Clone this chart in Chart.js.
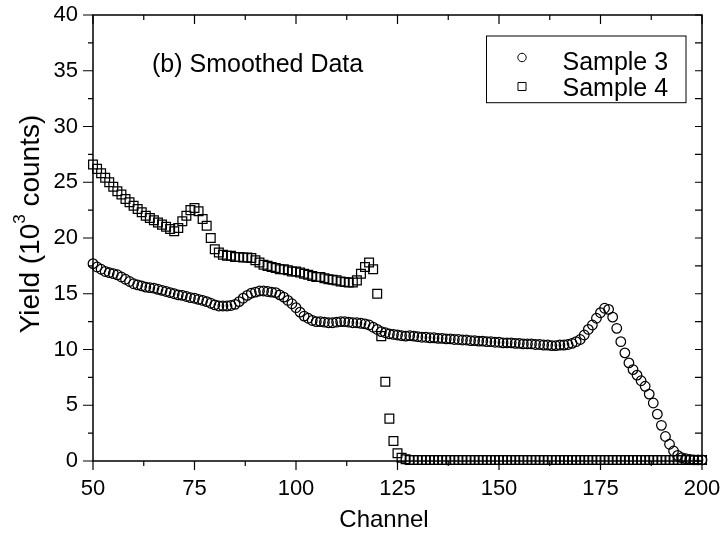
<!DOCTYPE html>
<html lang="en">
<head>
  <meta charset="UTF-8" />
  <title>Smoothed Data</title>
  <script src="https://cdn.jsdelivr.net/npm/chart.js"></script>
  <style>
    html, body {
      margin: 0;
      padding: 0;
      background: #fff;
    }
    .chart-box {
      width: 722px;
      height: 535px;
    }
  </style>
</head>
<body>
  <div class="chart-box">
    <canvas id="yieldChart"></canvas>
  </div>

  <script>
    // channel numbers (x)
    const channels = [
      50, 51, 52, 53, 54, 55, 56, 57, 58, 59,
      60, 61, 62, 63, 64, 65, 66, 67, 68, 69,
      70, 71, 72, 73, 74, 75, 76, 77, 78, 79,
      80, 81, 82, 83, 84, 85, 86, 87, 88, 89,
      90, 91, 92, 93, 94, 95, 96, 97, 98, 99,
      100, 101, 102, 103, 104, 105, 106, 107, 108, 109,
      110, 111, 112, 113, 114, 115, 116, 117, 118, 119,
      120, 121, 122, 123, 124, 125, 126, 127, 128, 129,
      130, 131, 132, 133, 134, 135, 136, 137, 138, 139,
      140, 141, 142, 143, 144, 145, 146, 147, 148, 149,
      150, 151, 152, 153, 154, 155, 156, 157, 158, 159,
      160, 161, 162, 163, 164, 165, 166, 167, 168, 169,
      170, 171, 172, 173, 174, 175, 176, 177, 178, 179,
      180, 181, 182, 183, 184, 185, 186, 187, 188, 189,
      190, 191, 192, 193, 194, 195, 196, 197, 198, 199,
      200
    ];

    // yield, 10^3 counts
    const sample3 = [
      17.7, 17.4, 17.2, 17.0, 16.9, 16.8, 16.7, 16.5, 16.3, 16.1,
      15.9, 15.8, 15.7, 15.6, 15.55, 15.5, 15.4, 15.3, 15.2, 15.1,
      15.0, 14.9, 14.85, 14.75, 14.65, 14.6, 14.5, 14.4, 14.3, 14.15,
      14.0, 13.9, 13.9, 13.9, 13.95, 14.05, 14.3, 14.6, 14.85, 15.05,
      15.15, 15.25, 15.25, 15.2, 15.15, 15.1, 14.9, 14.7, 14.4, 14.1,
      13.75, 13.35, 13.0, 12.8, 12.6, 12.5, 12.5, 12.45, 12.4, 12.4,
      12.45, 12.5, 12.5, 12.45, 12.4, 12.4, 12.35, 12.3, 12.2, 12.0,
      11.8, 11.6, 11.5, 11.4, 11.35, 11.3, 11.25, 11.2, 11.25, 11.2,
      11.15, 11.1, 11.1, 11.05, 11.05, 11.0, 11.0, 10.95, 10.95, 10.9,
      10.9, 10.85, 10.85, 10.8, 10.8, 10.75, 10.75, 10.7, 10.7, 10.65,
      10.65, 10.6, 10.6, 10.6, 10.55, 10.55, 10.5, 10.5, 10.5, 10.45,
      10.45, 10.4, 10.4, 10.35, 10.35, 10.4, 10.4, 10.45, 10.55, 10.7,
      10.9, 11.3, 11.8, 12.2, 12.8, 13.3, 13.7, 13.6, 12.9, 11.9,
      10.7, 9.7, 8.8, 8.2, 7.7, 7.2, 6.7, 6.0, 5.2, 4.2,
      3.2, 2.2, 1.5, 0.9, 0.5, 0.3, 0.2, 0.15, 0.1, 0.1,
      0.1
    ];

    const sample4 = [
      26.6, 26.2, 25.8, 25.4, 25.0, 24.6, 24.2, 23.9, 23.5, 23.2,
      22.9, 22.6, 22.3, 22.0, 21.8, 21.6, 21.4, 21.2, 21.0, 20.8,
      20.6, 20.9, 21.5, 22.0, 22.5, 22.7, 22.4, 21.7, 21.1, 20.0,
      19.0, 18.7, 18.5, 18.4, 18.4, 18.3, 18.3, 18.25, 18.25, 18.2,
      18.0, 17.8, 17.6, 17.5, 17.4, 17.3, 17.2, 17.2, 17.1, 17.0,
      17.0, 16.9, 16.8, 16.7, 16.6, 16.5, 16.5, 16.4, 16.3, 16.25,
      16.2, 16.1, 16.05, 16.0, 16.0, 16.2, 16.8, 17.4, 17.8, 17.2,
      15.0, 11.2, 7.1, 3.8, 1.8, 0.7, 0.3, 0.15, 0.1, 0.1,
      0.1, 0.1, 0.1, 0.1, 0.1, 0.1, 0.1, 0.1, 0.1, 0.1,
      0.1, 0.1, 0.1, 0.1, 0.1, 0.1, 0.1, 0.1, 0.1, 0.1,
      0.1, 0.1, 0.1, 0.1, 0.1, 0.1, 0.1, 0.1, 0.1, 0.1,
      0.1, 0.1, 0.1, 0.1, 0.1, 0.1, 0.1, 0.1, 0.1, 0.1,
      0.1, 0.1, 0.1, 0.1, 0.1, 0.1, 0.1, 0.1, 0.1, 0.1,
      0.1, 0.1, 0.1, 0.1, 0.1, 0.1, 0.1, 0.1, 0.1, 0.1,
      0.1, 0.1, 0.1, 0.1, 0.1, 0.1, 0.1, 0.1, 0.1, 0.1,
      0.1
    ];

    const seriesNames = ["Sample 3", "Sample 4"];
    const xTicks = [50, 75, 100, 125, 150, 175, 200];
    const yTicks = [0, 5, 10, 15, 20, 25, 30, 35, 40];

    const FONT = "'Liberation Sans', Arial, sans-serif";
    Chart.defaults.font.family = FONT;
    Chart.defaults.color = "#000";

    function toPoints(ys) {
      return channels.map((c, i) => ({ x: c, y: ys[i] }));
    }

    // box frame + tick marks (majors and minors), Origin style
    const frameTicks = {
      id: "frameTicks",
      afterDraw(chart) {
        const { ctx, chartArea: a, scales: { x, y } } = chart;
        ctx.save();
        ctx.strokeStyle = "#000";
        ctx.lineWidth = 1.5;
        ctx.strokeRect(a.left, a.top, a.right - a.left, a.bottom - a.top);

        ctx.lineWidth = 1.2;
        ctx.beginPath();
        xTicks.forEach((v, i) => {
          const px = x.getPixelForValue(v);
          ctx.moveTo(px, a.bottom); ctx.lineTo(px, a.bottom + 9);
          ctx.moveTo(px, a.top); ctx.lineTo(px, a.top + 9);
          if (i < xTicks.length - 1) {
            const m = x.getPixelForValue((v + xTicks[i + 1]) / 2);
            ctx.moveTo(m, a.bottom); ctx.lineTo(m, a.bottom + 5);
            ctx.moveTo(m, a.top); ctx.lineTo(m, a.top + 5);
          }
        });
        yTicks.forEach((v, i) => {
          const py = y.getPixelForValue(v);
          ctx.moveTo(a.left - 10, py); ctx.lineTo(a.left, py);
          ctx.moveTo(a.right - 7, py); ctx.lineTo(a.right, py);
          if (i < yTicks.length - 1) {
            const m = y.getPixelForValue((v + yTicks[i + 1]) / 2);
            ctx.moveTo(a.left - 5, m); ctx.lineTo(a.left, m);
            ctx.moveTo(a.right - 7, m); ctx.lineTo(a.right, m);
          }
        });
        ctx.stroke();
        ctx.restore();
      }
    };

    // axis titles (y has a superscript), note text and framed legend
    const labels = {
      id: "labels",
      afterDraw(chart) {
        const { ctx, chartArea: a } = chart;
        ctx.save();
        ctx.fillStyle = "#000";
        ctx.textAlign = "left";

        // x axis title, set a bit left of centre like the original
        ctx.font = "24px " + FONT;
        ctx.textBaseline = "middle";
        ctx.textAlign = "center";
        ctx.fillText("Channel", a.left + 291, a.bottom + 59);
        ctx.textAlign = "left";

        // y axis title
        ctx.translate(31, 224);
        ctx.rotate(-Math.PI / 2);
        const big = "28px " + FONT, small = "17px " + FONT;
        const p1 = "Yield (10", p2 = "3", p3 = " counts)";
        ctx.font = big;
        const w1 = ctx.measureText(p1).width, w3 = ctx.measureText(p3).width;
        ctx.font = small;
        const w2 = ctx.measureText(p2).width;
        let sx = -(w1 + w2 + w3) / 2;
        ctx.textBaseline = "middle";
        ctx.font = big;
        ctx.fillText(p1, sx, 0);
        ctx.font = small;
        ctx.fillText(p2, sx + w1, -11);
        ctx.font = big;
        ctx.fillText(p3, sx + w1 + w2, 0);
        ctx.setTransform(1, 0, 0, 1, 0, 0);

        // note
        ctx.font = "25px " + FONT;
        ctx.textBaseline = "alphabetic";
        ctx.fillText("(b) Smoothed Data", a.left + 59, a.top + 57);

        // legend
        const bx = a.right - 215.5, by = a.top + 21;
        ctx.lineWidth = 1;
        ctx.strokeStyle = "#000";
        ctx.strokeRect(bx, by, 199.5, 66.7);
        const styles = ["circle", "rect"];
        const radii = [4.2, 5.7];
        const rows = [21.5, 50.5];
        const bases = [33.5, 59.5];
        chart.data.datasets.forEach((ds, i) => {
          ctx.fillStyle = "rgba(0,0,0,0)";
          Chart.helpers.drawPoint(ctx, {
            pointStyle: styles[i], radius: radii[i], borderWidth: 1, rotation: 0
          }, bx + 35.5, by + rows[i]);
          ctx.fillStyle = "#000";
          ctx.font = "25px " + FONT;
          ctx.fillText(seriesNames[i], bx + 76, by + bases[i]);
        });
        ctx.restore();
      }
    };

    new Chart(document.getElementById("yieldChart"), {
      type: "scatter",
      data: {
        datasets: [
          {
            label: seriesNames[0],
            data: toPoints(sample3),
            pointStyle: "circle",
            pointRadius: 4.8,
            pointBorderWidth: 1.25,
            pointBorderColor: "#000",
            pointBackgroundColor: "rgba(0,0,0,0)",
            clip: false
          },
          {
            label: seriesNames[1],
            data: toPoints(sample4),
            pointStyle: "rect",
            pointRadius: 6.2,
            pointBorderWidth: 1.25,
            pointBorderColor: "#000",
            pointBackgroundColor: "rgba(0,0,0,0)",
            clip: false
          }
        ]
      },
      options: {
        responsive: true,
        maintainAspectRatio: false,
        animation: false,
        events: [],
        layout: { padding: { top: 15, right: 20, left: 0, bottom: 0 } },
        plugins: {
          legend: { display: false },
          tooltip: { enabled: false }
        },
        scales: {
          x: {
            type: "linear",
            min: 50,
            max: 200,
            afterFit(s) {
              s.height = 74;
              s.paddingLeft = 0;
              s.paddingRight = 0;
            },
            afterBuildTicks(s) { s.ticks = xTicks.map(v => ({ value: v })); },
            grid: { display: false, drawTicks: false },
            border: { display: false },
            ticks: { font: { size: 22 }, padding: 15, maxRotation: 0 },
            title: { display: false }
          },
          y: {
            type: "linear",
            min: 0,
            max: 40,
            afterFit(s) {
              s.width = 93;
              s.paddingTop = 0;
              s.paddingBottom = 0;
            },
            afterBuildTicks(s) { s.ticks = yTicks.map(v => ({ value: v })); },
            grid: { display: false, drawTicks: false },
            border: { display: false },
            ticks: { font: { size: 22 }, padding: 15 }
          }
        }
      },
      plugins: [frameTicks, labels]
    });
  </script>
</body>
</html>
